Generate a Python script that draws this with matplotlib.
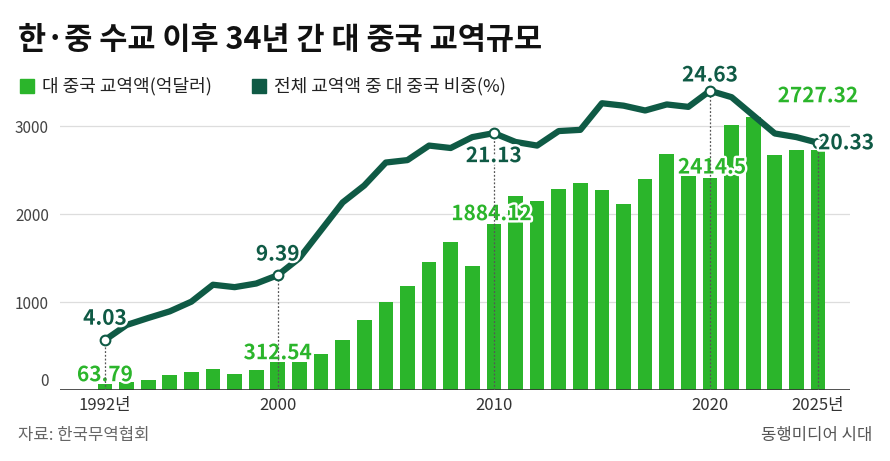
import matplotlib
matplotlib.use("Agg")
import matplotlib.pyplot as plt
import matplotlib.patheffects as pe

plt.rcParams['font.family'] = ['Noto Sans CJK KR', 'DejaVu Sans']

years = list(range(1992, 2026))
trade = [63.79, 90, 117, 170, 200, 237, 184, 226, 312.54, 315, 412, 570, 794, 1005,
         1180, 1450, 1683, 1409, 1884.12, 2206, 2151, 2289, 2354, 2274, 2114, 2400,
         2686, 2434, 2414.5, 3015, 3103, 2676, 2729, 2727.32]
share = [4.03, 5.27, 5.85, 6.4, 7.2, 8.6, 8.4, 8.7, 9.39, 10.8, 13.1, 15.4, 16.8, 18.7,
         18.9, 20.1, 19.9, 20.8, 21.13, 20.4, 20.1, 21.3, 21.4, 23.6, 23.4, 23.0,
         23.5, 23.3, 24.63, 24.1, 22.6, 21.1, 20.8, 20.33]
xtick_pos = [1992, 2000, 2010, 2020, 2025]
xtick_lab = ['1992년', '2000', '2010', '2020', '2025년']
mark_years = [1992, 2000, 2010, 2020, 2025]

W, H = 890, 461
fig = plt.figure(figsize=(W/100, H/100), dpi=100)
ax = fig.add_axes([60/W, 1-390/H, 790/W, 310/H])
ax.set_xlim(1989.92, 2026.48)
ax.set_ylim(0, 3523)
green = '#2bb52b'
dark = '#0f5a45'
ax.bar(years, trade, width=0.68, color=green, zorder=2)
for y in [1000, 2000, 3000]:
    ax.axhline(y, color='#dddddd', lw=0.9, zorder=1)
ax.axhline(0, color='#333333', lw=1.2, zorder=3)
for s in ax.spines.values():
    s.set_visible(False)
ax.set_yticks([0, 1000, 2000, 3000])
ax.set_yticklabels(['0', '1000', '2000', '3000'], fontsize=11, color='#444444')
ax.get_yticklabels()[0].set_va('bottom')
ax.tick_params(axis='y', length=0, pad=8)
ax.set_xticks(xtick_pos)
ax.set_xticklabels(xtick_lab, fontsize=12, color='#333333')
ax.tick_params(axis='x', length=0, pad=5)

ax2 = ax.twinx()
ax2.set_ylim(-0.1, 25.52)
ax2.set_yticks([])
for s in ax2.spines.values():
    s.set_visible(False)
ax2.plot(years, share, color=dark, lw=4.5, zorder=4, solid_capstyle='round')
for yr in mark_years:
    v = share[years.index(yr)]
    ax2.plot([yr, yr], [-0.1, v], color='#555555', lw=0.9, ls=(0, (1.5, 1.5)), zorder=3)
    ax2.plot(yr, v, 'o', ms=7, mfc='white', mec=dark, mew=1.5, zorder=5)

stroke = [pe.withStroke(linewidth=3.5, foreground='white')]
kw = dict(fontsize=15, fontweight='bold', ha='center', path_effects=stroke, zorder=6)
ax2.text(1992, 5.3, '4.03', color=dark, **kw)
ax2.text(2000, 10.6, '9.39', color=dark, **kw)
ax2.text(2010, 18.4, '21.13', color=dark, va='bottom', **kw)
ax2.text(2020, 25.4, '24.63', color=dark, **kw)
ax2.text(2026.3, 20.33, '20.33', color=dark, va='center', **kw)

ax.text(1992, 100, '63.79', color=green, **kw)
ax.text(2000, 350, '312.54', color=green, **kw)
ax.text(2009.9, 1930, '1884.12', color=green, **kw)
ax.text(2020.1, 2460, '2414.5', color=green, **kw)
ax.text(2025, 3270, '2727.32', color=green, **kw)

fig.text(18/W, 1-40/H, '한·중 수교 이후 34년 간 대 중국 교역규모', fontsize=22, fontweight='bold',
         color='#111111', va='center')
fig.patches.append(plt.Rectangle((20/W, 1-93/H), 14/W, 14/H, color=green, transform=fig.transFigure))
fig.text(42/W, 1-86/H, '대 중국 교역액(억달러)', fontsize=13, va='center', color='#222222')
fig.patches.append(plt.Rectangle((252/W, 1-93/H), 14/W, 14/H, color=dark, transform=fig.transFigure))
fig.text(274/W, 1-86/H, '전체 교역액 중 대 중국 비중(%)', fontsize=13, va='center', color='#222222')
fig.text(18/W, 1-435/H, '자료: 한국무역협회', fontsize=12, va='center', color='#666666')
fig.text(872/W, 1-435/H, '동행미디어 시대', fontsize=12, va='center', ha='right', color='#555555')
fig.savefig('out.png', dpi=100, facecolor='white')
